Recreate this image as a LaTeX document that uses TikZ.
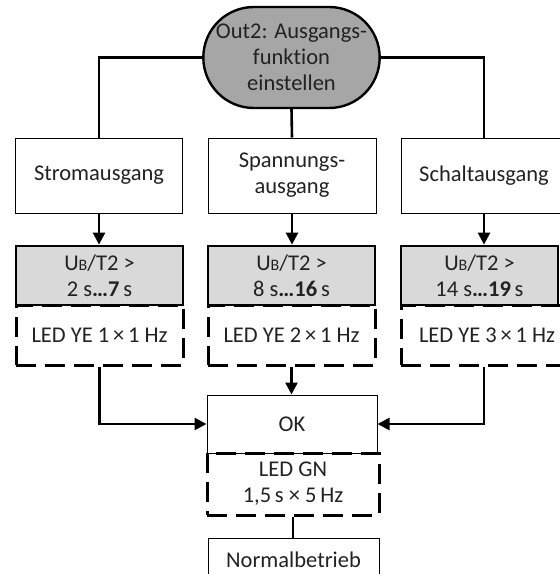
\documentclass[tikz,border=0pt]{standalone}
\usepackage{fontspec}
\setmainfont{Carlito}[Ligatures={NoCommon}]
\usetikzlibrary{shapes.misc,arrows.meta}
\definecolor{stadgray}{HTML}{A6A6A6}
\definecolor{lightg}{HTML}{D9D9D9}
\definecolor{txt}{HTML}{222222}
\newcommand{\smB}{{\fontsize{16}{16}\selectfont B}}
\newcommand{\tms}{\,×\,}
\begin{document}
\begin{tikzpicture}[x=1pt,y=-1pt,
  every node/.style={font=\fontsize{22.5}{26}\selectfont, text=txt, inner sep=0pt, align=center},
  plainbox/.style={draw, line width=1pt},
  graybox/.style={draw, line width=2.8pt, fill=lightg},
  dashbox/.style={draw, line width=3pt, dash pattern=on 20pt off 9pt},
  stadium/.style={draw, line width=2.4pt, fill=stadgray, rounded rectangle},
  conn/.style={line width=2.6pt},
  arr/.style={conn, -{Triangle[length=12pt,width=12pt]}}]
\useasboundingbox (0,0) rectangle (560,574);
\clip (0,0) rectangle (560,574);

\node[stadium, minimum width=169pt, minimum height=101pt] (top) at (291.5,57.5) {Out2: Ausgangs-\\funktion\\einstellen};

\node[plainbox, minimum width=167pt, minimum height=75pt] (strom) at (99,175.5) {Stromausgang};
\node[plainbox, minimum width=168pt, minimum height=75pt] (spann) at (292,175.5) {Spannungs-\\ausgang};
\node[plainbox, minimum width=166pt, minimum height=75pt] (schalt) at (484,175.5) {Schaltausgang};

\node[dashbox, minimum width=167pt, minimum height=60pt] (d1) at (99.5,335) {LED YE 1\tms 1 Hz};
\node[dashbox, minimum width=167pt, minimum height=60pt] (d2) at (291.5,335) {LED YE 2\tms 1 Hz};
\node[dashbox, minimum width=166pt, minimum height=60pt] (d3) at (484,335) {\hspace*{6pt}LED YE 3\tms 1 Hz};

\node[graybox, minimum width=167pt, minimum height=59pt] (g1) at (99.5,275.5) {U\smB/T2 >\\2 s\textbf{…7}\,s};
\node[graybox, minimum width=167pt, minimum height=59pt] (g2) at (291.5,275.5) {U\smB/T2 >\\8 s\textbf{…16}\,s};
\node[graybox, minimum width=157pt, minimum height=59pt] (g3) at (479.5,275.5) {U\smB/T2 >\\14 s\textbf{…19}\,s};

\node[plainbox, minimum width=170pt, minimum height=58pt] (ok) at (292,424) {OK};
\node[dashbox, minimum width=172pt, minimum height=62pt] (gn) at (293,484) {LED GN\\1,5\,s × 5\,Hz};
\node[plainbox, minimum width=171pt, minimum height=44pt] (norm) at (293.5,560) {Normalbetrieb};

\draw[conn] (top.west) -| (strom.north);
\draw[conn] (top.east) -| (schalt.north);
\draw[conn] (top.south) -- (spann.north);

\draw[arr] (strom.south) -- (strom.south |- g1.north);
\draw[arr] (spann.south) -- (spann.south |- g2.north);
\draw[arr] (schalt.south) -- (schalt.south |- g3.north);

\draw[arr] (d1.south) |- (ok.west);
\draw[arr] (d3.south) |- (ok.east);
\draw[arr] (d2.south) -- (d2.south |- ok.north);
\draw[conn] (gn.south) -- (gn.south |- norm.north);
\end{tikzpicture}
\end{document}
